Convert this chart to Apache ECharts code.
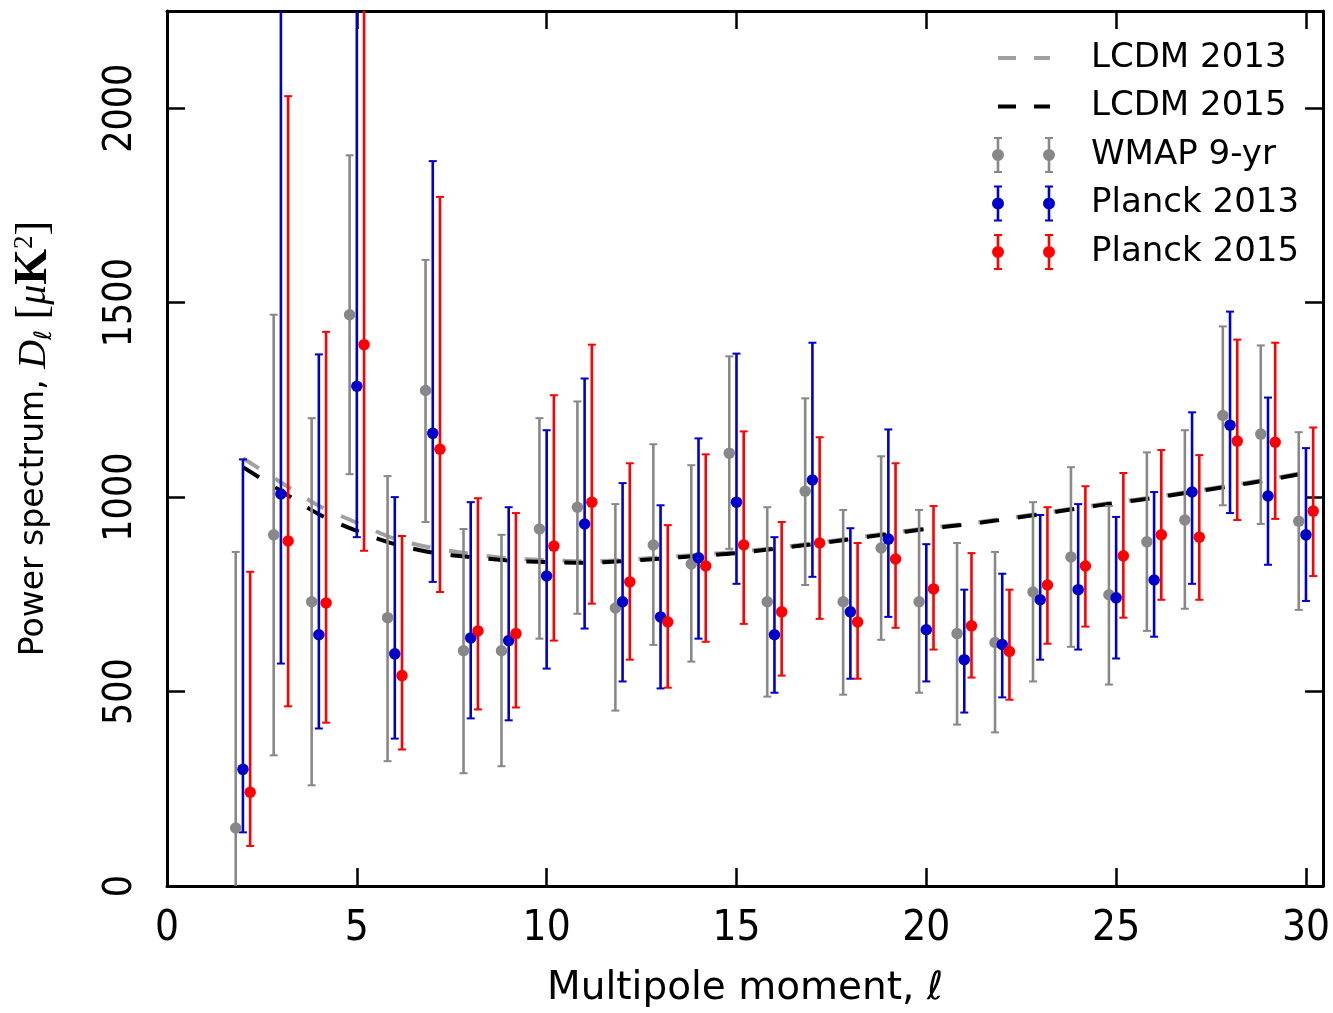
<!DOCTYPE html>
<html><head><meta charset="utf-8">
<script src="https://cdn.jsdelivr.net/npm/echarts@6/dist/echarts.min.js"></script>
<style>html,body{margin:0;padding:0;background:#fff}#c{width:1333px;height:1013px}</style>
</head><body><div id="c"></div>
<script>
// ---- data ----
const ells = [2,3,4,5,6,7,8,9,10,11,12,13,14,15,16,17,18,19,20,21,22,23,24,25,26,27,28,29,30];

const wmapVal = [149,903,731,1469,690,1274,605,605,918,974,715,877,828,1113,731,1015,731,869,731,649,626,756,846,749,885,941,1210,1162,938];
const wmapLo  = [-100,336,259,1059,321,936,290,308,636,700,451,620,577,867,487,774,492,633,497,415,395,526,615,518,656,713,979,931,710];
const wmapHi  = [859,1469,1203,1879,1054,1610,918,903,1203,1246,982,1136,1082,1362,974,1254,967,1105,967,882,859,987,1077,977,1115,1172,1439,1390,1167];

const p13Val = [300,1008,646,1285,597,1164,638,631,797,931,731,692,844,987,646,1044,705,892,659,582,621,736,762,741,787,1013,1185,1003,903];
const p13Lo  = [138,572,405,897,379,782,431,426,559,662,526,508,636,777,497,795,533,692,526,446,485,582,608,585,641,777,959,826,733];
const p13Hi  = [1097,2600,1367,2900,1000,1864,987,974,1172,1305,1036,979,1151,1369,897,1397,920,1174,879,762,803,954,982,949,1013,1218,1477,1256,1126];

const p15Val = [241,887,728,1392,541,1123,656,649,874,987,782,679,823,877,705,882,679,841,764,669,603,774,823,849,903,897,1144,1141,964];
const p15Lo  = [103,462,420,862,351,756,454,459,631,726,582,510,628,674,541,687,533,664,608,536,479,623,667,690,736,736,941,944,797];
const p15Hi  = [808,2031,1425,2700,900,1772,997,959,1262,1392,1087,928,1110,1169,936,1154,882,1087,977,856,762,974,1028,1062,1121,1108,1405,1397,1179];

const lcdm2013 = [1100,1038,978,934,893,869,854,843,838,835,838,845,852,859,869,881,894,907,920,931,944,958,973,987,1000,1015,1030,1046,1064];
const lcdm2015 = [1077,1016,956,913,879,857,846,837,833,831,835,842,849,856,867,879,892,905,918,929,942,956,971,985,998,1013,1028,1044,1062];

const xTicks = [0,5,10,15,20,25,30];
const yTicks = [0,500,1000,1500,2000];

// ---- presentation ----
const SHIFT = 0.19;
const GRAY = '#888888', BLUE = '#0000cc', RED = '#ff0000', LGRAY = '#a0a0a0';
const TICKFONT = "'Liberation Sans Narrow', 'DejaVu Sans Condensed', 'Liberation Sans', sans-serif";

function errSeries(name, color, shift, lo, hi) {
  return {
    type: 'custom', name, silent: true, z: 3,
    data: ells.map((l, i) => [l + shift, lo[i], hi[i]]),
    encode: { x: 0, y: [1, 2] },
    renderItem(params, api) {
      const x = api.value(0);
      const a = api.coord([x, api.value(1)]);
      const b = api.coord([x, api.value(2)]);
      const cs = params.coordSys;
      const top = cs.y, bot = cs.y + cs.height;
      const y1 = Math.min(a[1], bot), y2 = Math.max(b[1], top);
      const ch = [{ type: 'line', shape: { x1: a[0], y1: y1, x2: a[0], y2: y2 }, style: { stroke: color, lineWidth: 2.6 } }];
      if (a[1] <= bot) ch.push({ type: 'line', shape: { x1: a[0] - 4, y1: a[1], x2: a[0] + 4, y2: a[1] }, style: { stroke: color, lineWidth: 2 } });
      if (b[1] >= top) ch.push({ type: 'line', shape: { x1: b[0] - 4, y1: b[1], x2: b[0] + 4, y2: b[1] }, style: { stroke: color, lineWidth: 2 } });
      return { type: 'group', children: ch };
    }
  };
}
function dotSeries(name, color, shift, vals) {
  return {
    type: 'scatter', name, silent: true, z: 3,
    data: ells.map((l, i) => [l + shift, vals[i]]),
    symbol: 'circle', symbolSize: 11.5, itemStyle: { color: color, opacity: 1 }
  };
}
function lineSeries(name, color, vals) {
  return {
    type: 'line', name, silent: true, z: 2,
    data: ells.map((l, i) => [l, vals[i]]),
    showSymbol: false, symbol: 'none', smooth: 0.3,
    lineStyle: { color: color, width: 4, type: [19, 19], cap: 'butt' }
  };
}

const dashIcon = 'path://M-1,0M62,36M5,16h18v4h-18zM41,16h16v4h-16z';
const errIcon = 'path://M-1,0M62,36' +
  'M3.7,1h2.6v34h-2.6zM1,0h8v2h-8zM1,34h8v2h-8zM-1,18a6,6 0 1,1 12,0a6,6 0 1,1 -12,0z' +
  'M54.7,1h2.6v34h-2.6zM52,0h8v2h-8zM52,34h8v2h-8zM50,18a6,6 0 1,1 12,0a6,6 0 1,1 -12,0z';

function tickFmt(list) { return v => list.some(t => Math.abs(t - v) < 1e-6) ? String(v) : ''; }

const axisLine = { show: true, onZero: false, lineStyle: { color: '#000', width: 3 } };
const axisTick = { show: true, inside: true, length: 18, lineStyle: { color: '#000', width: 2.5 } };

const chart = echarts.init(document.getElementById('c'), null, { renderer: 'canvas' });
chart.setOption({
  animation: false,
  backgroundColor: '#fff',
  grid: { left: 167, right: 9, top: 11, bottom: 125, containLabel: false },
  xAxis: [
    { type: 'value', min: 0, max: 30.45, interval: 5, position: 'bottom',
      axisLine, axisTick, splitLine: { show: false },
      axisLabel: { formatter: tickFmt(xTicks), fontSize: 42, fontFamily: TICKFONT, color: '#000', margin: 22 },
      name: 'Multipole moment, ℓ', nameLocation: 'middle', nameGap: 83,
      nameTextStyle: { fontSize: 39, fontFamily: 'DejaVu Sans', color: '#000' } },
    { type: 'value', min: 0, max: 30.45, interval: 5, position: 'top',
      axisLine, axisTick, splitLine: { show: false }, axisLabel: { show: false } }
  ],
  yAxis: [
    { type: 'value', min: 0, max: 2250, interval: 500, position: 'left',
      axisLine, axisTick, splitLine: { show: false },
      axisLabel: { formatter: tickFmt(yTicks), rotate: 90, fontSize: 39, fontFamily: TICKFONT, color: '#000', margin: 27 },
      name: '{t|Power spectrum, }{d|D}{s|ℓ}{t| }{b|[}{m|μ}{k|K}{p|2}{b|]}',
      nameLocation: 'middle', nameGap: 110, nameRotate: 90,
      nameTextStyle: {
        color: '#000', padding: [0, 0, 0, 20],
        rich: {
          t: { fontSize: 33, fontFamily: 'DejaVu Sans', lineHeight: 46, color: '#000' },
          d: { fontSize: 40, fontFamily: 'Liberation Serif', fontStyle: 'italic', lineHeight: 46, color: '#000' },
          s: { fontSize: 24, fontFamily: 'DejaVu Sans', verticalAlign: 'bottom', lineHeight: 34, color: '#000' },
          b: { fontSize: 44, fontFamily: 'Liberation Serif', lineHeight: 46, color: '#000' },
          m: { fontSize: 40, fontFamily: 'Liberation Serif', fontStyle: 'italic', lineHeight: 46, color: '#000' },
          k: { fontSize: 46, fontFamily: 'Liberation Serif', fontWeight: 'bold', lineHeight: 46, color: '#000' },
          p: { fontSize: 27, fontFamily: 'Liberation Serif', verticalAlign: 'top', lineHeight: 30, color: '#000' }
        }
      } },
    { type: 'value', min: 0, max: 2250, interval: 500, position: 'right',
      axisLine, axisTick, splitLine: { show: false }, axisLabel: { show: false } }
  ],
  legend: {
    orient: 'vertical', left: 987, top: 35, itemWidth: 63, itemHeight: 36, itemGap: 12.5,
    selectedMode: false, align: 'left',
    textStyle: { fontSize: 34, fontFamily: 'DejaVu Sans', color: '#000', padding: [0, 0, 0, 31], lineHeight: 36 },
    data: [
      { name: 'LCDM 2013', icon: dashIcon, itemStyle: { color: LGRAY, borderWidth: 0 } },
      { name: 'LCDM 2015', icon: dashIcon, itemStyle: { color: '#000', borderWidth: 0 } },
      { name: 'WMAP 9-yr', icon: errIcon, itemStyle: { color: GRAY, borderWidth: 0 } },
      { name: 'Planck 2013', icon: errIcon, itemStyle: { color: BLUE, borderWidth: 0 } },
      { name: 'Planck 2015', icon: errIcon, itemStyle: { color: RED, borderWidth: 0 } }
    ]
  },
  series: [
    lineSeries('LCDM 2013', LGRAY, lcdm2013),
    lineSeries('LCDM 2015', '#000', lcdm2015),
    errSeries('WMAP 9-yr', GRAY, -SHIFT, wmapLo, wmapHi),
    dotSeries('WMAP 9-yr', GRAY, -SHIFT, wmapVal),
    errSeries('Planck 2013', BLUE, 0, p13Lo, p13Hi),
    dotSeries('Planck 2013', BLUE, 0, p13Val),
    errSeries('Planck 2015', RED, SHIFT, p15Lo, p15Hi),
    dotSeries('Planck 2015', RED, SHIFT, p15Val)
  ]
});
</script></body></html>
